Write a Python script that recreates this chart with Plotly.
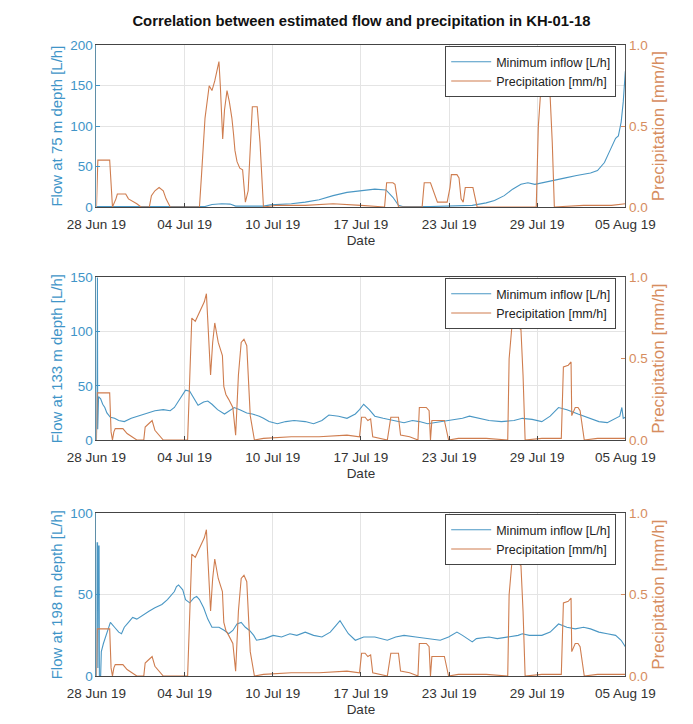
import numpy as np
import pandas as pd
import plotly.graph_objects as go

# ---------------- data (day offset from 28 Jun 2019 00:00, value) ----------------
flow_75m = [(0,0.5),(7.8,0.5),(8.3,3),(9.0,4),(9.6,3.5),(10.0,1),(12.0,1),(12.5,2.5),(14,4),(15,6),(16,9),
            (17,14),(18,18),(19,20),(20,22),(20.8,21),(21.3,12),(21.7,2),(22,0.5),(24,0.5),(26.3,1),(27,2),
            (28,5),(28.6,8),(29.3,14),(29.9,22),(30.5,28),(31.0,30),(31.5,28),(32,30),(32.8,33),(33.7,36),
            (34.5,39),(35.5,42),(36.0,45),(36.5,55),(36.9,70),(37.3,85),(37.5,88),(37.7,105),(37.85,130),(38,168)]

flow_133m = [(0,0),(0.02,160),(0.07,160),(0.09,10),(0.15,40),(0.3,38),(0.45,33),(0.6,30),(0.75,25),(1.0,21),
             (1.3,20),(1.6,18),(2.0,17),(2.5,20),(3.0,22),(3.6,25),(4.2,27),(4.8,28),(5.3,27),(5.6,30),(6.1,40),
             (6.4,46),(6.7,45),(7.0,38),(7.3,32),(7.7,35),(8.0,36),(8.3,33),(8.7,28),(9.2,24),(9.6,27),(9.9,30),
             (10.3,28),(10.8,25),(11.2,24),(11.7,22),(12.0,20),(12.4,17),(13.0,15),(13.6,17),(14.2,18),(15.0,17),
             (15.6,15),(16.2,18),(16.7,23),(17.4,22),(18.0,20),(18.6,24),(18.9,28),(19.2,33),(19.6,28),(20.0,22),
             (20.6,20),(21.3,18),(22.1,16),(22.7,18),(23.2,17),(23.8,15),(24.7,17),(25.6,19),(26.3,20),(26.8,22),
             (27.4,20),(28.2,18),(29.1,17),(30.0,18),(30.6,20),(31.3,19),(32.0,17),(32.6,22),(33.2,30),(33.8,28),
             (34.6,24),(35.5,20),(36.1,17),(36.7,16),(37.3,20),(37.6,22),(37.75,30),(37.85,20),(38,21)]

flow_198m = [(0,0),(0.02,82),(0.08,82),(0.1,5),(0.13,80),(0.19,80),(0.21,0),(0.3,0),(0.35,15),(0.5,20),(0.7,25),
             (1.0,33),(1.3,30),(1.6,27),(1.8,26),(2.0,30),(2.3,33),(2.6,36),(2.9,35),(3.4,38),(3.8,40),(4.2,42),
             (4.7,44),(5.1,47),(5.6,52),(5.75,55),(5.9,56),(6.2,53),(6.4,47),(6.7,45),(7.0,48),(7.2,49),(7.4,47),
             (7.7,42),(8.0,35),(8.3,30),(8.8,30),(9.2,28),(9.5,26),(9.8,28),(10.1,32),(10.4,33),(10.7,30),(11.0,28),
             (11.3,25),(11.5,22),(12.1,23),(12.7,25),(13.3,24),(13.9,26),(14.4,25),(15.0,27),(15.6,25),(16.2,24),
             (16.8,27),(17.2,31),(17.5,34),(17.8,30),(18.1,26),(18.6,22),(19.2,24),(20.0,24),(20.9,22),(21.5,24),
             (22.1,25),(22.95,24),(23.8,23),(24.7,22),(25.3,24),(25.9,27),(26.3,25),(26.7,23),(27.0,21),(27.3,23),
             (28.2,24),(28.8,23),(29.7,24),(30.3,25),(30.6,26),(31.1,25),(32.0,25),(32.6,27),(33.2,32),(33.8,30),
             (34.4,29),(35.0,30),(35.5,29),(36.1,27),(36.7,26),(37.3,25),(37.7,22),(38,18)]

precip_top = [(0,0),(0.05,0.29),(0.1,0.29),(0.95,0.29),(1.05,0.1),(1.15,0.0),(1.4,0.05),(1.5,0.08),(2.1,0.08),
              (2.3,0.05),(2.9,0.02),(3.2,0.0),(3.8,0.0),(3.95,0.07),(4.2,0.1),(4.5,0.12),(4.8,0.1),(5.0,0.05),
              (5.3,0.0),(7.4,0.0),(7.55,0.2),(7.8,0.55),(8.1,0.75),(8.3,0.72),(8.5,0.78),(8.65,0.85),(8.8,0.9),
              (8.9,0.75),(9.07,0.42),(9.2,0.6),(9.38,0.72),(9.55,0.65),(9.73,0.55),(9.85,0.45),(9.95,0.35),
              (10.1,0.28),(10.3,0.24),(10.5,0.23),(10.6,0.15),(10.7,0.03),(10.9,0.1),(11.2,0.62),(11.55,0.62),
              (11.75,0.4),(12.0,0.0),(13,0.01),(15,0.01),(17,0.02),(19,0.01),(20.7,0.0),(20.85,0.15),(21.3,0.15),
              (21.45,0.14),(21.6,0.05),(21.7,0.0),(23.4,0.0),(23.55,0.15),(24.0,0.15),(24.2,0.1),(24.5,0.03),
              (25.2,0.03),(25.4,0.12),(25.5,0.2),(25.9,0.2),(26.05,0.18),(26.2,0.05),(26.35,0.03),(26.5,0.12),
              (27.05,0.12),(27.2,0.05),(27.35,0.0),(31.6,0.0),(31.75,0.5),(31.9,0.69),(32.3,0.7),(32.6,0.68),
              (32.75,0.4),(32.9,0.0),(35,0.01),(37,0.01),(38,0.02)]

precip_low = [(0,0),(0.05,0.29),(0.95,0.29),(1.05,0.05),(1.15,0.0),(1.25,0.05),(1.35,0.07),(1.9,0.07),(2.2,0.04),
              (2.6,0.02),(2.9,0.0),(3.4,0.0),(3.5,0.08),(3.75,0.1),(4.0,0.12),(4.2,0.06),(4.5,0.03),(4.8,0.0),
              (6.55,0.0),(6.65,0.3),(6.85,0.75),(7.1,0.73),(7.5,0.8),(7.75,0.85),(7.9,0.9),(8.0,0.7),(8.2,0.4),
              (8.35,0.6),(8.5,0.72),(8.75,0.6),(9.05,0.52),(9.15,0.33),(9.3,0.28),(9.5,0.25),(9.8,0.2),(10.0,0.03),
              (10.2,0.4),(10.4,0.6),(10.6,0.62),(10.8,0.58),(11.05,0.15),(11.35,0.0),(12,0.01),(14,0.02),(16,0.02),
              (18,0.03),(18.9,0.02),(19.05,0.14),(19.3,0.14),(19.5,0.12),(19.7,0.13),(19.85,0.02),(20.9,0.0),
              (21.15,0.14),(21.7,0.14),(21.85,0.03),(22.5,0.02),(23.1,0.0),(23.2,0.2),(23.7,0.2),(23.9,0.18),
              (24.0,0.0),(24.1,0.12),(25.0,0.12),(25.3,0.0),(26,0.01),(28,0.01),(29.55,0.0),(29.65,0.5),
              (29.85,0.7),(30.2,0.7),(30.5,0.68),(30.65,0.4),(30.8,0.0),(32,0.01),(33.4,0.01),(33.5,0.3),
              (33.55,0.45),(33.9,0.46),(34.1,0.48),(34.15,0.15),(34.4,0.2),(34.6,0.2),(34.75,0.18),(35.05,0.0),
              (36,0.01),(38,0.01)]

tick_labels = ['28 Jun 19', '04 Jul 19', '10 Jul 19', '17 Jul 19', '23 Jul 19', '29 Jul 19', '05 Aug 19']
depths = ['75', '133', '198']
flow_max = [200, 150, 100]
flow_ticks = [[0, 50, 100, 150, 200], [0, 50, 100, 150], [0, 50, 100]]

# ---------------- styling ----------------
BASE = pd.Timestamp('2019-06-28')
END = pd.Timestamp('2019-08-05')
BLUE_LINE = '#4a97c4'
ORANGE_LINE = '#cf7d4f'
BLUE_TXT = '#4095c8'
ORANGE_TXT = '#d68d60'
FONT = 'Liberation Sans, Arial, sans-serif'
W, H = 693, 724
x0, x1 = 64, 643
panels_px = [(31, 196), (268, 434), (509, 675)]


def to_xy(pairs):
    d = np.array([p[0] for p in pairs], dtype=float)
    v = np.array([p[1] for p in pairs], dtype=float)
    return BASE + pd.to_timedelta(d, unit='D'), v


tickvals = [BASE + (END - BASE) * i / 6 for i in range(7)]

fig = go.Figure()
flows = [flow_75m, flow_133m, flow_198m]
precs = [precip_top, precip_low, precip_low]

layout = dict(width=W, height=H, autosize=False, margin=dict(l=0, r=0, t=0, b=0),
              plot_bgcolor='white', paper_bgcolor='white', font=dict(family=FONT, color='#333'),
              showlegend=True)

for i in range(3):
    k = i + 1
    xa = 'x' if k == 1 else f'x{k}'
    yl = 'y' if k == 1 else f'y{2*k-1}'
    yr = f'y{2*k}'
    lg = 'legend' if k == 1 else f'legend{k}'
    fx, fv = to_xy(flows[i])
    px_, pv = to_xy(precs[i])
    fig.add_trace(go.Scatter(x=fx, y=fv, mode='lines', name='Minimum inflow [L/h]',
                             line=dict(color=BLUE_LINE, width=1.1), xaxis=xa, yaxis=yl, legend=lg))
    fig.add_trace(go.Scatter(x=px_, y=pv, mode='lines', name='Precipitation [mm/h]',
                             line=dict(color=ORANGE_LINE, width=1.1), xaxis=xa, yaxis=yr, legend=lg))

    top, bot = panels_px[i]
    dom_y = [1 - bot / H, 1 - top / H]
    xkey = 'xaxis' if k == 1 else f'xaxis{k}'
    ylkey = 'yaxis' if k == 1 else f'yaxis{2*k-1}'
    yrkey = f'yaxis{2*k}'
    layout[xkey] = dict(domain=[x0 / W, x1 / W], anchor=yl, type='date', range=[BASE, END],
                        tickvals=tickvals, ticktext=tick_labels, ticks='inside', ticklen=4,
                        tickcolor='#444', showline=True, linecolor='#444', linewidth=1, mirror=True,
                        showgrid=True, gridcolor='#e4e4e4', gridwidth=1, zeroline=False,
                        ticklabelstandoff=5,
                        tickfont=dict(size=13.5, color='#333'),
                        title=dict(text='Date', font=dict(size=13.5, color='#333'), standoff=4))
    layout[ylkey] = dict(domain=dom_y, anchor=xa, range=[0, flow_max[i]], tickvals=flow_ticks[i],
                         ticks='inside', ticklen=4, tickcolor=BLUE_TXT, showline=True, linecolor='#5f8fa8',
                         linewidth=1, showgrid=True, gridcolor='#e4e4e4', zeroline=False,
                         tickfont=dict(size=13.5, color=BLUE_TXT),
                         title=dict(text=f'Flow at {depths[i]} m depth [L/h]',
                                    font=dict(size=15, color=BLUE_TXT), standoff=3))
    layout[yrkey] = dict(overlaying=yl, side='right', anchor=xa, range=[0, 1], tickvals=[0, 0.5, 1.0],
                         tickformat='.1f', ticks='inside', ticklen=4, tickcolor=ORANGE_TXT,
                         showline=True, linecolor='#555', linewidth=1, showgrid=False, zeroline=False,
                         tickfont=dict(size=13.5, color=ORANGE_TXT),
                         title=dict(text='Precipitation [mm/h]', font=dict(size=17, color=ORANGE_TXT),
                                    standoff=5))
    layout[lg] = dict(x=(x1 - 10) / W, xanchor='right', y=dom_y[1] - 0.001, yanchor='top',
                      bgcolor='white', bordercolor='#444', borderwidth=1,
                      font=dict(size=12.5, color='#222'), tracegroupgap=0, itemwidth=40)

layout['title'] = dict(text='<b>Correlation between estimated flow and precipitation in KH-01-18</b>',
                       x=0.51, xanchor='center', y=1 - 13 / H, yanchor='middle',
                       font=dict(size=14.8, color='#111'))

fig.update_layout(**layout)
fig.write_html('out.html')
